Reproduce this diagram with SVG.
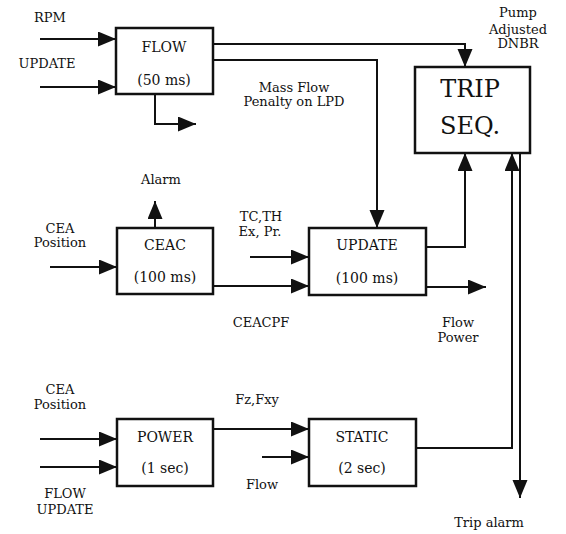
<svg xmlns="http://www.w3.org/2000/svg" width="566" height="534" viewBox="0 0 566 534">
<style>
text{font-family:"DejaVu Serif","Liberation Serif",serif;fill:#111;text-anchor:middle}
.lbl{font-size:13px}
.box{font-size:14px}
.big{font-size:24px}
.nd{fill:#fff;stroke:#111;stroke-width:2.5}
.c path{fill:none;stroke:#111;stroke-width:2}
.a{marker-end:url(#ah)}
</style>
<defs>
<marker id="ah" markerUnits="userSpaceOnUse" markerWidth="19" markerHeight="16" refX="18" refY="7.5" orient="auto">
<path d="M0,0 L18,7.5 L0,15 z" fill="#111"/>
</marker>
</defs>
<rect width="566" height="534" fill="#fff"/>
<g class="c" id="connectors">
<path class="a" d="M40,39 H116"/>
<path class="a" d="M40,87 H116"/>
<path class="a" d="M213,44 H465 V67"/>
<path class="a" d="M213,60 H377 V228"/>
<path class="a" d="M155,94 V124 H196"/>
<path class="a" d="M50,267 H117"/>
<path class="a" d="M155,228 V201"/>
<path class="a" d="M250,257 H309"/>
<path class="a" d="M213,286 H309"/>
<path class="a" d="M426,247 H465 V153"/>
<path class="a" d="M426,287 H486"/>
<path class="a" d="M416,448 H512 V153"/>
<path class="a" d="M520,153 V498"/>
<path class="a" d="M40,439 H117"/>
<path class="a" d="M40,467 H117"/>
<path class="a" d="M213,429 H309"/>
<path class="a" d="M262,457 H309"/>
</g>
<g id="flow">
<rect class="nd" x="116" y="28" width="97" height="66"/>
<text class="box" x="164" y="52">FLOW</text>
<text class="box" x="164" y="85">(50 ms)</text>
</g>
<g id="trip">
<rect class="nd" x="415" y="67" width="115" height="86"/>
<text class="big" x="470" y="97">TRIP</text>
<text class="big" x="470" y="134">SEQ.</text>
</g>
<g id="ceac">
<rect class="nd" x="117" y="228" width="96" height="66"/>
<text class="box" x="165" y="250">CEAC</text>
<text class="box" x="165" y="282">(100 ms)</text>
</g>
<g id="update">
<rect class="nd" x="309" y="228" width="117" height="67"/>
<text class="box" x="367" y="250">UPDATE</text>
<text class="box" x="367" y="283">(100 ms)</text>
</g>
<g id="power">
<rect class="nd" x="117" y="419" width="96" height="67"/>
<text class="box" x="165" y="442">POWER</text>
<text class="box" x="165" y="473">(1 sec)</text>
</g>
<g id="static">
<rect class="nd" x="309" y="419" width="107" height="67"/>
<text class="box" x="362" y="442">STATIC</text>
<text class="box" x="362" y="473">(2 sec)</text>
</g>
<g id="labels">
<text class="lbl" x="50" y="22">RPM</text>
<text class="lbl" x="47" y="68">UPDATE</text>
<text class="lbl" x="518" y="17">Pump</text>
<text class="lbl" x="518" y="34">Adjusted</text>
<text class="lbl" x="518" y="48">DNBR</text>
<text class="lbl" x="294" y="92">Mass Flow</text>
<text class="lbl" x="294" y="106">Penalty on LPD</text>
<text class="lbl" x="161" y="184">Alarm</text>
<text class="lbl" x="60" y="233">CEA</text>
<text class="lbl" x="60" y="247">Position</text>
<text class="lbl" x="261" y="221">TC,TH</text>
<text class="lbl" x="260" y="236">Ex, Pr.</text>
<text class="lbl" x="261" y="327">CEACPF</text>
<text class="lbl" x="458" y="327">Flow</text>
<text class="lbl" x="458" y="342">Power</text>
<text class="lbl" x="60" y="394">CEA</text>
<text class="lbl" x="60" y="409">Position</text>
<text class="lbl" x="257" y="404">Fz,Fxy</text>
<text class="lbl" x="262" y="489">Flow</text>
<text class="lbl" x="65" y="498">FLOW</text>
<text class="lbl" x="65" y="514">UPDATE</text>
<text class="lbl" x="489" y="527">Trip alarm</text>
</g>
</svg>
